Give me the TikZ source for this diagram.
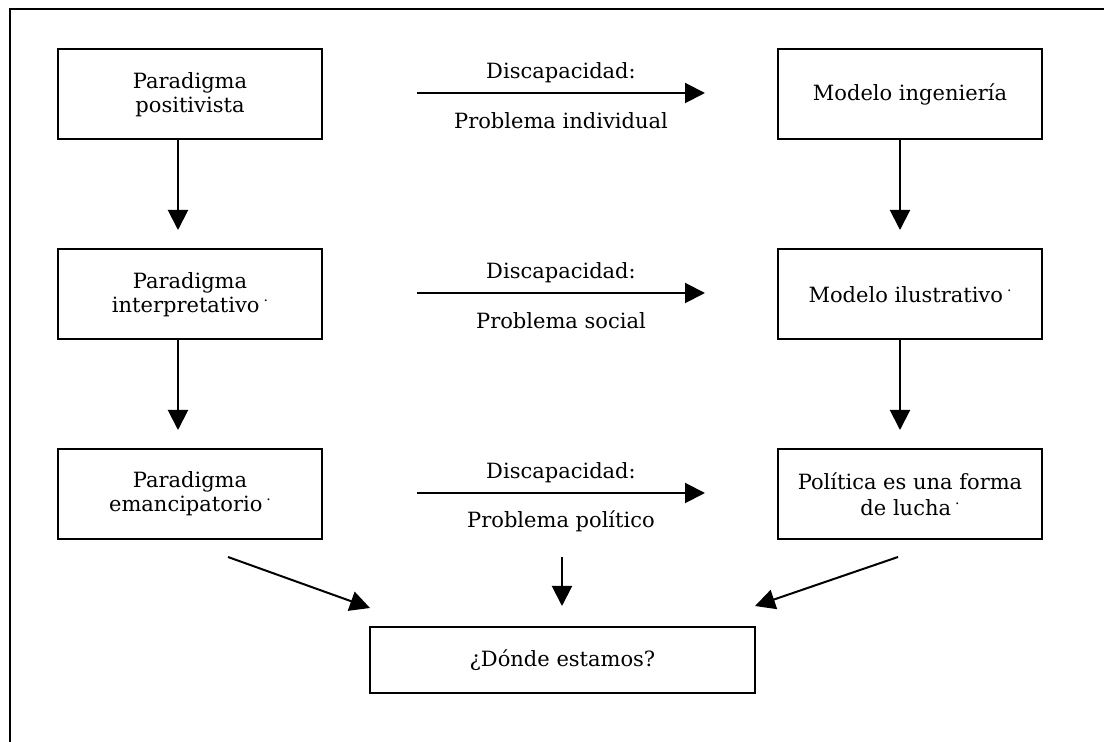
\documentclass[tikz,border=0pt]{standalone}
\usepackage{fontspec}
\setmainfont{DejaVu Serif}
\usetikzlibrary{arrows.meta}
\newcommand{\updot}{\kern2pt\raisebox{1.0ex}{\scriptsize .}}
\begin{document}
\begin{tikzpicture}[x=0.5pt,y=-0.5pt,
  box/.style={draw, line width=1pt, inner sep=0pt, align=center,
    font=\fontsize{10.5}{12}\selectfont},
  colbox/.style={box, minimum width=132pt, minimum height=45pt},
  lbl/.style={inner sep=0pt, font=\fontsize{10.5}{12}\selectfont},
  conn/.style={line width=1pt, -{Triangle[length=10pt,width=10pt]}}]
\useasboundingbox (0,0) rectangle (1104,742);
% frame
\draw[line width=1pt] (10,742) -- (10,9) -- (1104,9);

% left column
\node[colbox] (p1) at (190,94.5) {Paradigma\\positivista};
\node[colbox] (p2) at (190,294.5) {Paradigma\\interpretativo\updot};
\node[colbox] (p3) at (190,494) {Paradigma\\emancipatorio\updot};
% right column
\node[colbox] (m1) at (910,94.5) {Modelo ingeniería};
\node[colbox] (m2) at (910,294.5) {Modelo ilustrativo\updot};
\node[colbox] (m3) at (910,494) {Política es una forma\\[1pt]de lucha\updot};
% bottom
\node[box, minimum width=192.5pt, minimum height=33pt] (q) at (562.5,660) {¿Dónde estamos?};

% horizontal arrows and labels
\foreach \r/\y/\t in {1/93/individual, 2/293/social, 3/493/político}{
  \coordinate (h\r a) at (417,\y);
  \coordinate (h\r b) at (705,\y);
  \draw[conn] (h\r a) -- (h\r b);
  \node[lbl] (d\r) at (561,\y-20) {Discapacidad:};
  \node[lbl] (pr\r) at (561,\y+28) {Problema \t};
}

% vertical arrows
\coordinate (v1) at (178,230);
\coordinate (v2) at (178,430);
\coordinate (w1) at (900,230);
\coordinate (w2) at (900,430);
\draw[conn] (p1.south -| v1) -- (v1);
\draw[conn] (p2.south -| v2) -- (v2);
\draw[conn] (m1.south -| w1) -- (w1);
\draw[conn] (m2.south -| w2) -- (w2);

% arrows into the bottom box
\coordinate (s1) at (228,557);
\coordinate (t1) at (370,608);
\coordinate (s2) at (562,557);
\coordinate (t2) at (562,606);
\coordinate (s3) at (898,557);
\coordinate (t3) at (755,606);
\draw[conn] (s1) -- (t1);
\draw[conn] (s2) -- (t2);
\draw[conn] (s3) -- (t3);
\end{tikzpicture}
\end{document}
